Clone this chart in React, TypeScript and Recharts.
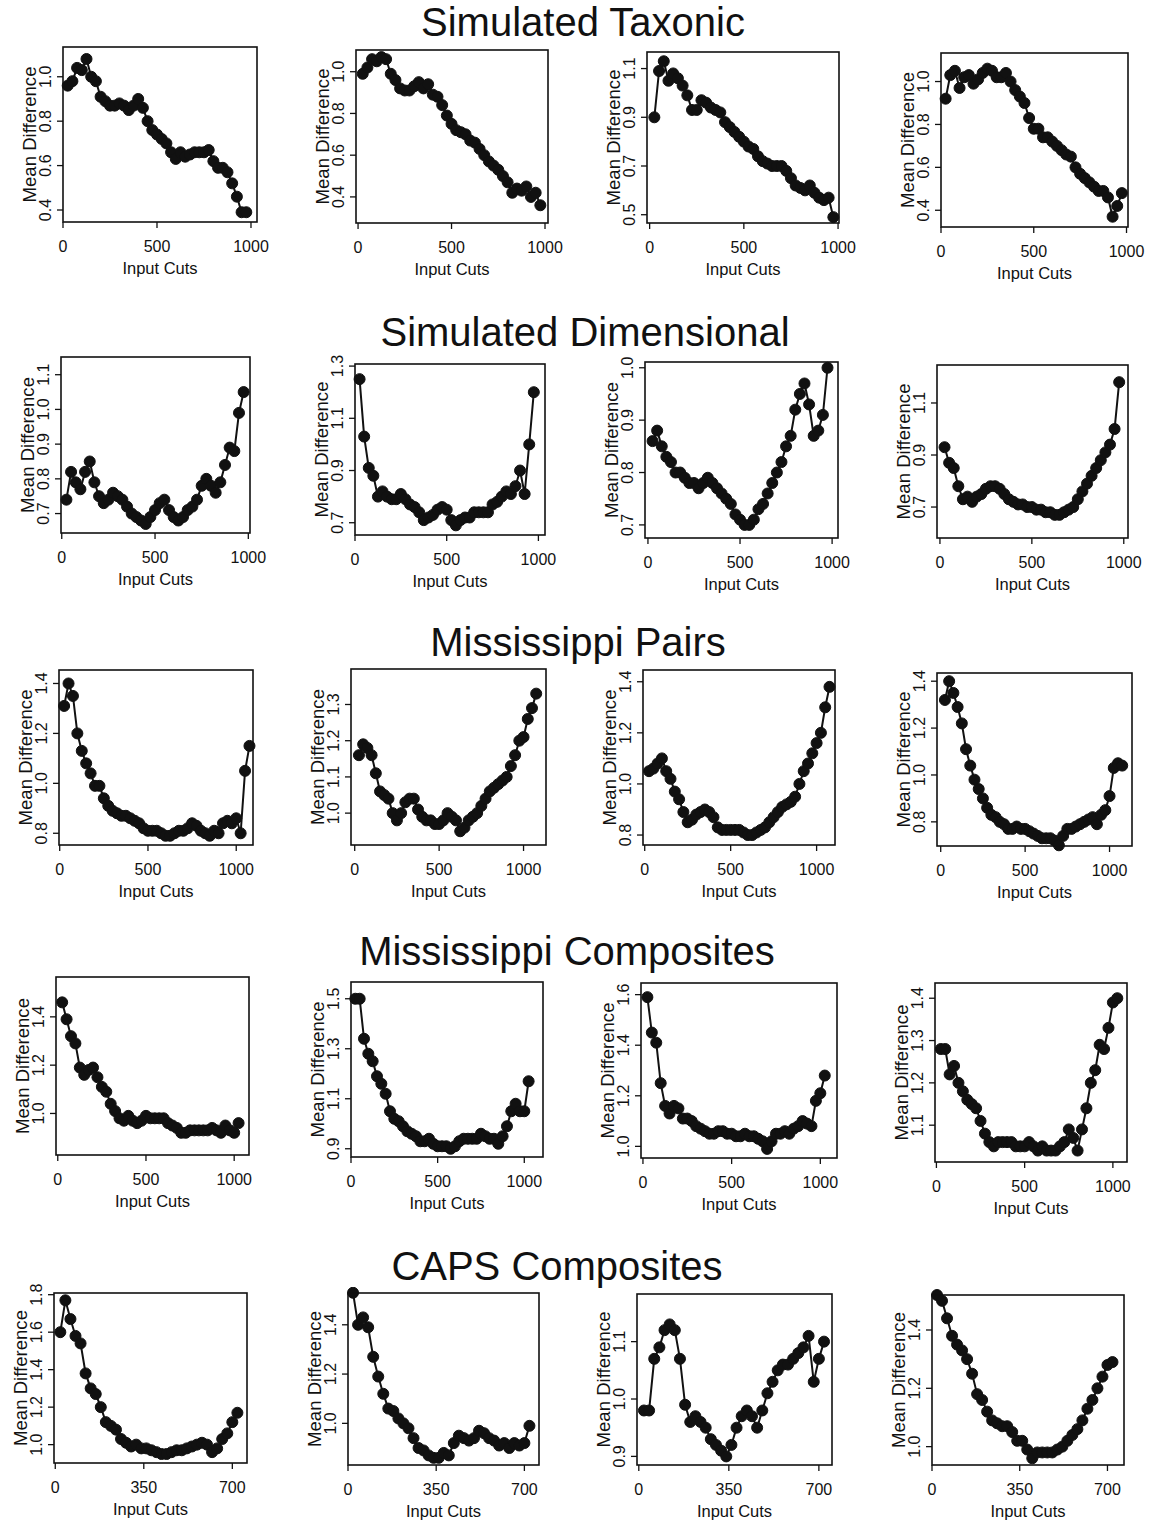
import React from "react";
import { LineChart, Line, XAxis, YAxis } from "recharts";

const FONT = "'Liberation Sans', Arial, Helvetica, sans-serif";

// input cut positions per row
const cutsA = [25, 50, 75, 100, 125, 150, 175, 200, 225, 250, 275, 300, 325, 350, 375, 400, 425, 450, 475, 500, 525, 550, 575, 600, 625, 650, 675, 700, 725, 750, 775, 800, 825, 850, 875, 900, 925, 950, 975];
const cutsB = [25, 50, 75, 100, 125, 150, 175, 200, 225, 250, 275, 300, 325, 350, 375, 400, 425, 450, 475, 500, 525, 550, 575, 600, 625, 650, 675, 700, 725, 750, 775, 800, 825, 850, 875, 900, 925, 950, 975, 1000, 1025, 1050, 1075];
const cutsC = [25, 50, 75, 100, 125, 150, 175, 200, 225, 250, 275, 300, 325, 350, 375, 400, 425, 450, 475, 500, 525, 550, 575, 600, 625, 650, 675, 700, 725, 750, 775, 800, 825, 850, 875, 900, 925, 950, 975, 1000, 1025];
const cutsD = [20, 40, 60, 80, 100, 120, 140, 160, 180, 200, 220, 240, 260, 280, 300, 320, 340, 360, 380, 400, 420, 440, 460, 480, 500, 520, 540, 560, 580, 600, 620, 640, 660, 680, 700, 720];

// mean differences
const taxonic1 = [0.96, 0.98, 1.04, 1.03, 1.08, 1.0, 0.98, 0.91, 0.89, 0.87, 0.87, 0.88, 0.87, 0.85, 0.87, 0.9, 0.86, 0.8, 0.76, 0.74, 0.72, 0.7, 0.66, 0.63, 0.66, 0.64, 0.65, 0.66, 0.66, 0.66, 0.67, 0.62, 0.59, 0.59, 0.57, 0.52, 0.46, 0.39, 0.39];
const taxonic2 = [0.99, 1.02, 1.06, 1.05, 1.07, 1.06, 0.99, 0.96, 0.92, 0.91, 0.91, 0.93, 0.95, 0.92, 0.94, 0.89, 0.88, 0.84, 0.79, 0.75, 0.72, 0.71, 0.7, 0.67, 0.66, 0.63, 0.6, 0.57, 0.55, 0.53, 0.5, 0.47, 0.42, 0.44, 0.43, 0.45, 0.4, 0.42, 0.36];
const taxonic3 = [0.9, 1.09, 1.13, 1.05, 1.08, 1.06, 1.03, 0.99, 0.93, 0.93, 0.97, 0.96, 0.94, 0.93, 0.92, 0.88, 0.86, 0.84, 0.82, 0.8, 0.78, 0.77, 0.74, 0.72, 0.71, 0.7, 0.7, 0.7, 0.68, 0.65, 0.62, 0.61, 0.6, 0.62, 0.59, 0.57, 0.56, 0.57, 0.49];
const taxonic4 = [0.92, 1.03, 1.05, 0.97, 1.02, 1.03, 0.99, 1.01, 1.04, 1.06, 1.05, 1.02, 1.02, 1.04, 1.0, 0.96, 0.93, 0.9, 0.83, 0.78, 0.78, 0.74, 0.74, 0.72, 0.7, 0.68, 0.66, 0.65, 0.6, 0.57, 0.55, 0.53, 0.51, 0.49, 0.49, 0.46, 0.37, 0.42, 0.48];

const dimensional1 = [0.74, 0.82, 0.79, 0.77, 0.82, 0.85, 0.79, 0.75, 0.73, 0.74, 0.76, 0.75, 0.74, 0.72, 0.7, 0.69, 0.68, 0.67, 0.69, 0.71, 0.73, 0.74, 0.71, 0.69, 0.68, 0.69, 0.71, 0.72, 0.74, 0.78, 0.8, 0.78, 0.76, 0.79, 0.84, 0.89, 0.88, 0.99, 1.05];
const dimensional2 = [1.25, 1.03, 0.91, 0.88, 0.8, 0.82, 0.8, 0.79, 0.79, 0.81, 0.79, 0.77, 0.76, 0.74, 0.71, 0.72, 0.73, 0.75, 0.76, 0.75, 0.71, 0.69, 0.71, 0.72, 0.72, 0.74, 0.74, 0.74, 0.74, 0.77, 0.78, 0.8, 0.82, 0.81, 0.84, 0.9, 0.81, 1.0, 1.2];
const dimensional3 = [0.86, 0.88, 0.85, 0.83, 0.82, 0.8, 0.8, 0.79, 0.78, 0.78, 0.77, 0.78, 0.79, 0.78, 0.77, 0.76, 0.75, 0.74, 0.72, 0.71, 0.7, 0.7, 0.71, 0.73, 0.74, 0.76, 0.78, 0.8, 0.82, 0.85, 0.87, 0.92, 0.95, 0.97, 0.93, 0.87, 0.88, 0.91, 1.0];
const dimensional4 = [0.93, 0.87, 0.85, 0.78, 0.73, 0.74, 0.72, 0.74, 0.75, 0.77, 0.78, 0.78, 0.77, 0.75, 0.73, 0.72, 0.71, 0.71, 0.7, 0.7, 0.69, 0.69, 0.68, 0.68, 0.67, 0.67, 0.68, 0.69, 0.7, 0.73, 0.76, 0.79, 0.82, 0.85, 0.88, 0.91, 0.94, 1.0, 1.18];

const pairs1 = [1.31, 1.4, 1.35, 1.2, 1.13, 1.08, 1.04, 0.99, 0.99, 0.94, 0.91, 0.89, 0.88, 0.87, 0.87, 0.86, 0.85, 0.84, 0.82, 0.81, 0.81, 0.81, 0.8, 0.79, 0.79, 0.8, 0.81, 0.81, 0.82, 0.84, 0.83, 0.81, 0.8, 0.79, 0.81, 0.8, 0.84, 0.85, 0.84, 0.86, 0.8, 1.05, 1.15];
const pairs2 = [1.16, 1.19, 1.18, 1.16, 1.11, 1.06, 1.05, 1.04, 1.0, 0.98, 1.0, 1.03, 1.04, 1.04, 1.01, 0.99, 0.98, 0.98, 0.97, 0.97, 0.98, 1.0, 0.99, 0.98, 0.95, 0.96, 0.98, 0.99, 1.0, 1.02, 1.04, 1.06, 1.07, 1.08, 1.09, 1.1, 1.13, 1.16, 1.2, 1.21, 1.26, 1.29, 1.33];
const pairs3 = [1.05, 1.06, 1.08, 1.1, 1.05, 1.02, 0.97, 0.94, 0.89, 0.85, 0.86, 0.88, 0.89, 0.9, 0.89, 0.87, 0.83, 0.82, 0.82, 0.82, 0.82, 0.82, 0.81, 0.8, 0.8, 0.81, 0.82, 0.83, 0.85, 0.87, 0.89, 0.91, 0.92, 0.93, 0.95, 1.0, 1.05, 1.08, 1.12, 1.16, 1.2, 1.3, 1.38];
const pairs4 = [1.32, 1.4, 1.35, 1.29, 1.22, 1.11, 1.04, 0.98, 0.94, 0.9, 0.86, 0.83, 0.82, 0.8, 0.79, 0.77, 0.77, 0.78, 0.77, 0.77, 0.76, 0.75, 0.74, 0.73, 0.73, 0.73, 0.72, 0.7, 0.74, 0.77, 0.77, 0.78, 0.79, 0.8, 0.81, 0.82, 0.79, 0.83, 0.85, 0.91, 1.03, 1.05, 1.04];

const msComposites1 = [1.46, 1.39, 1.32, 1.29, 1.19, 1.16, 1.18, 1.19, 1.15, 1.11, 1.09, 1.04, 1.01, 0.98, 0.97, 0.99, 0.97, 0.96, 0.97, 0.99, 0.98, 0.98, 0.98, 0.98, 0.96, 0.95, 0.94, 0.92, 0.92, 0.93, 0.93, 0.93, 0.93, 0.93, 0.94, 0.93, 0.92, 0.95, 0.93, 0.92, 0.96];
const msComposites2 = [1.5, 1.5, 1.34, 1.28, 1.25, 1.19, 1.16, 1.12, 1.05, 1.02, 1.01, 0.99, 0.97, 0.96, 0.95, 0.93, 0.93, 0.94, 0.92, 0.91, 0.91, 0.91, 0.9, 0.91, 0.93, 0.94, 0.94, 0.94, 0.94, 0.96, 0.95, 0.94, 0.94, 0.92, 0.95, 0.99, 1.05, 1.08, 1.05, 1.05, 1.17];
const msComposites3 = [1.59, 1.45, 1.41, 1.25, 1.16, 1.13, 1.16, 1.15, 1.11, 1.11, 1.1, 1.08, 1.07, 1.06, 1.05, 1.05, 1.06, 1.06, 1.05, 1.05, 1.04, 1.04, 1.05, 1.04, 1.04, 1.03, 1.02, 0.99, 1.02, 1.05, 1.05, 1.06, 1.05, 1.07, 1.08, 1.1, 1.09, 1.08, 1.18, 1.21, 1.28];
const msComposites4 = [1.28, 1.28, 1.22, 1.24, 1.2, 1.18, 1.16, 1.15, 1.14, 1.11, 1.08, 1.06, 1.05, 1.06, 1.06, 1.06, 1.06, 1.05, 1.05, 1.05, 1.06, 1.05, 1.04, 1.05, 1.04, 1.04, 1.04, 1.05, 1.06, 1.09, 1.07, 1.04, 1.09, 1.14, 1.2, 1.23, 1.29, 1.28, 1.33, 1.39, 1.4];

const capsComposites1 = [1.6, 1.77, 1.67, 1.58, 1.54, 1.38, 1.3, 1.27, 1.2, 1.12, 1.1, 1.08, 1.03, 1.01, 0.99, 1.0, 0.98, 0.98, 0.97, 0.96, 0.95, 0.95, 0.96, 0.97, 0.97, 0.98, 0.99, 1.0, 1.01, 1.0, 0.96, 0.98, 1.03, 1.06, 1.12, 1.17];
const capsComposites2 = [1.53, 1.4, 1.43, 1.39, 1.27, 1.19, 1.12, 1.06, 1.05, 1.02, 1.0, 0.98, 0.94, 0.9, 0.89, 0.87, 0.86, 0.86, 0.88, 0.87, 0.92, 0.95, 0.94, 0.93, 0.94, 0.97, 0.96, 0.94, 0.93, 0.91, 0.92, 0.9, 0.92, 0.91, 0.92, 0.99];
const capsComposites3 = [0.98, 0.98, 1.07, 1.09, 1.12, 1.13, 1.12, 1.07, 0.99, 0.96, 0.97, 0.96, 0.95, 0.93, 0.92, 0.91, 0.9, 0.92, 0.95, 0.97, 0.98, 0.97, 0.95, 0.98, 1.01, 1.03, 1.05, 1.06, 1.06, 1.07, 1.08, 1.09, 1.11, 1.03, 1.07, 1.1];
const capsComposites4 = [1.52, 1.5, 1.44, 1.38, 1.35, 1.33, 1.3, 1.25, 1.18, 1.16, 1.12, 1.09, 1.08, 1.07, 1.07, 1.05, 1.02, 1.02, 0.99, 0.96, 0.98, 0.98, 0.98, 0.98, 0.99, 1.0, 1.02, 1.04, 1.06, 1.09, 1.13, 1.16, 1.2, 1.24, 1.28, 1.29];

// tick labels
const xTicksK = [0, 500, 1000];
const xTicksCaps = [0, 350, 700];
const yT_04_10 = [0.4, 0.6, 0.8, 1.0];
const yT_05_11 = [0.5, 0.7, 0.9, 1.1];
const yT_07_11 = [0.7, 0.8, 0.9, 1.0, 1.1];
const yT_07_13 = [0.7, 0.9, 1.1, 1.3];
const yT_07_10 = [0.7, 0.8, 0.9, 1.0];
const yT_07_11b = [0.7, 0.9, 1.1];
const yT_08_14 = [0.8, 1.0, 1.2, 1.4];
const yT_10_13 = [1.0, 1.1, 1.2, 1.3];
const yT_10_14 = [1.0, 1.2, 1.4];
const yT_09_15 = [0.9, 1.1, 1.3, 1.5];
const yT_10_16 = [1.0, 1.2, 1.4, 1.6];
const yT_11_14 = [1.1, 1.2, 1.3, 1.4];
const yT_10_18 = [1.0, 1.2, 1.4, 1.6, 1.8];
const yT_09_11 = [0.9, 1.0, 1.1];

const sectionTitles = ["Simulated Taxonic", "Simulated Dimensional", "Mississippi Pairs", "Mississippi Composites", "CAPS Composites"];

// layout of each plot box (left, top, width, height) and axis ranges
const panels = [
  { x: cutsA, y: taxonic1, box: [63, 47, 194, 175], xd: [0, 1032], yd: [0.346, 1.134], xt: xTicksK, yt: yT_04_10 },
  { x: cutsA, y: taxonic2, box: [356, 50, 192, 173], xd: [-11, 1016], yd: [0.275, 1.104], xt: xTicksK, yt: yT_04_10 },
  { x: cutsA, y: taxonic3, box: [647, 52, 192, 171], xd: [-14, 1005], yd: [0.466, 1.168], xt: xTicksK, yt: yT_05_11 },
  { x: cutsA, y: taxonic4, box: [941, 53, 187, 174], xd: [0, 1008], yd: [0.322, 1.133], xt: xTicksK, yt: yT_04_10 },
  { x: cutsA, y: dimensional1, box: [61, 357, 189, 176], xd: [-4, 1009], yd: [0.644, 1.151], xt: xTicksK, yt: yT_07_11 },
  { x: cutsA, y: dimensional2, box: [355, 364, 190, 171], xd: [0, 1036], yd: [0.653, 1.308], xt: xTicksK, yt: yT_07_13 },
  { x: cutsA, y: dimensional3, box: [645, 362, 193, 176], xd: [-16, 1032], yd: [0.675, 1.011], xt: xTicksK, yt: yT_07_10 },
  { x: cutsA, y: dimensional4, box: [937, 365, 191, 173], xd: [-16, 1023], yd: [0.581, 1.246], xt: xTicksK, yt: yT_07_11b },
  { x: cutsB, y: pairs1, box: [59, 670, 194, 175], xd: [-4, 1095], yd: [0.753, 1.454], xt: xTicksK, yt: yT_08_14 },
  { x: cutsB, y: pairs2, box: [351, 669, 195, 176], xd: [-22, 1133], yd: [0.912, 1.398], xt: xTicksK, yt: yT_10_13 },
  { x: cutsB, y: pairs3, box: [643, 670, 192, 175], xd: [-10, 1107], yd: [0.761, 1.446], xt: xTicksK, yt: yT_08_14 },
  { x: cutsB, y: pairs4, box: [937, 673, 195, 173], xd: [-22, 1133], yd: [0.697, 1.435], xt: xTicksK, yt: yT_08_14 },
  { x: cutsC, y: msComposites1, box: [56, 977, 193, 178], xd: [-10, 1084], yd: [0.828, 1.565], xt: xTicksK, yt: yT_10_14 },
  { x: cutsC, y: msComposites2, box: [351, 982, 192, 175], xd: [0, 1108], yd: [0.867, 1.567], xt: xTicksK, yt: yT_09_15 },
  { x: cutsC, y: msComposites3, box: [641, 983, 196, 175], xd: [-11, 1094], yd: [0.954, 1.646], xt: xTicksK, yt: yT_10_16 },
  { x: cutsC, y: msComposites4, box: [935, 983, 192, 179], xd: [-8, 1080], yd: [1.013, 1.436], xt: xTicksK, yt: yT_11_14 },
  { x: cutsD, y: capsComposites1, box: [54, 1293, 193, 170], xd: [-5, 758], yd: [0.902, 1.809], xt: xTicksCaps, yt: yT_10_18 },
  { x: cutsD, y: capsComposites2, box: [348, 1293, 191, 172], xd: [0, 758], yd: [0.831, 1.529], xt: xTicksCaps, yt: yT_10_14 },
  { x: cutsD, y: capsComposites3, box: [637, 1294, 195, 171], xd: [-7, 751], yd: [0.885, 1.183], xt: xTicksCaps, yt: yT_09_11 },
  { x: cutsD, y: capsComposites4, box: [932, 1295, 192, 170], xd: [0, 766], yd: [0.937, 1.52], xt: xTicksCaps, yt: yT_10_14 },
];

const titlePos = [
  [583, 36],
  [585, 346],
  [578, 656],
  [567, 965],
  [557, 1280],
];

const PAD_L = 34;
const PAD_T = 22;
const PAD_R = 26;
const PAD_B = 40;

function XTick(props: any) {
  const { x, y, payload } = props;
  return (
    <text x={x} y={y + 22} textAnchor="middle" fontSize={16} fontFamily={FONT} fill="#111">
      {payload.value}
    </text>
  );
}

function YTick(props: any) {
  const { x, y, payload } = props;
  return (
    <text
      transform={`translate(${x - 4},${y}) rotate(-90)`}
      textAnchor="middle"
      fontSize={16}
      fontFamily={FONT}
      fill="#111"
    >
      {Number(payload.value).toFixed(1)}
    </text>
  );
}

function Panel({ p }: { p: any }) {
  const [left, top, w, h] = p.box;
  const data = p.x.map((c: number, i: number) => ({ cut: c, md: p.y[i] }));
  return (
    <div style={{ position: "absolute", left: left - PAD_L, top: top - PAD_T }}>
      <LineChart
        width={w + PAD_L + PAD_R}
        height={h + PAD_T + PAD_B}
        data={data}
        margin={{ top: PAD_T, right: PAD_R, bottom: 0, left: 0 }}
      >
        <XAxis
          type="number"
          dataKey="cut"
          domain={p.xd}
          ticks={p.xt}
          interval={0}
          allowDataOverflow
          axisLine={false}
          tickLine={{ stroke: "#111", strokeWidth: 1.3 }}
          tickSize={6}
          tickMargin={2}
          height={PAD_B}
          tick={XTick}
        />
        <YAxis
          type="number"
          domain={p.yd}
          ticks={p.yt}
          interval={0}
          allowDataOverflow
          axisLine={false}
          tickLine={{ stroke: "#111", strokeWidth: 1.3 }}
          tickSize={6}
          tickMargin={2}
          width={PAD_L}
          tick={YTick}
        />
        <Line
          type="linear"
          dataKey="md"
          stroke="#111"
          strokeWidth={2}
          dot={{ r: 5.5, fill: "#111", stroke: "#111", strokeWidth: 1, clipDot: false }}
          activeDot={false}
          isAnimationActive={false}
        />
      </LineChart>
    </div>
  );
}

export default function App() {
  return (
    <div style={{ position: "absolute", left: 0, top: 0, width: 1153, height: 1525, background: "#fff", overflow: "hidden" }}>
      {panels.map((p, i) => (
        <Panel key={i} p={p} />
      ))}
      <svg width={1153} height={1525} style={{ position: "absolute", left: 0, top: 0, pointerEvents: "none" }}>
        {sectionTitles.map((t, i) => (
          <text key={t} x={titlePos[i][0]} y={titlePos[i][1]} textAnchor="middle" fontSize={40} fontFamily={FONT} fill="#111">
            {t}
          </text>
        ))}
        {panels.map((p, i) => {
          const [left, top, w, h] = p.box;
          return (
            <g key={i}>
              <rect x={left} y={top} width={w} height={h} fill="none" stroke="#111" strokeWidth={1.6} />
              <text
                transform={`translate(${left - 27},${top + h / 2}) rotate(-90)`}
                textAnchor="middle"
                fontSize={17.5}
                fontFamily={FONT}
                fill="#111"
                textLength={136}
                lengthAdjust="spacingAndGlyphs"
              >
                Mean Difference
              </text>
              <text x={left + w / 2} y={top + h + 52} textAnchor="middle" fontSize={16.5} fontFamily={FONT} fill="#111">
                Input Cuts
              </text>
            </g>
          );
        })}
      </svg>
    </div>
  );
}
